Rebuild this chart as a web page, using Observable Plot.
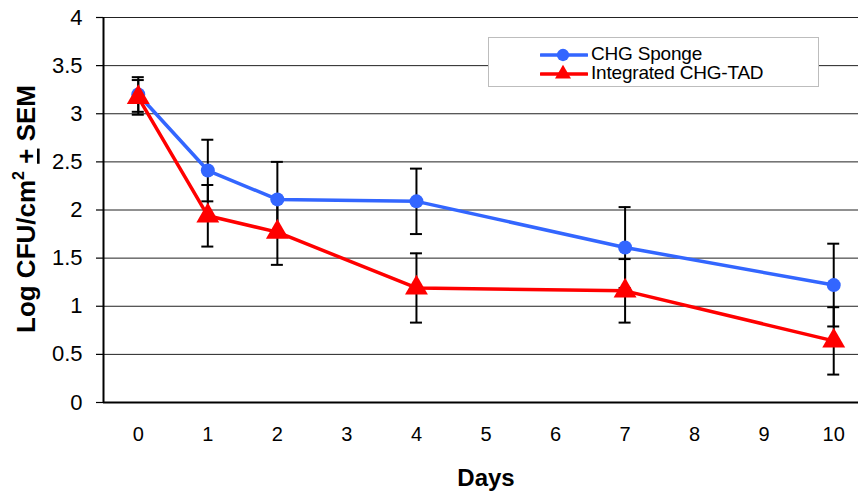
<!DOCTYPE html>
<html>
<head>
<meta charset="utf-8">
<script src="https://cdn.jsdelivr.net/npm/d3@7"></script>
<script src="https://cdn.jsdelivr.net/npm/@observablehq/plot@0.6"></script>
<style>
  html, body { margin: 0; padding: 0; background: #fff; }
  #wrap { position: relative; width: 858px; height: 492px; font-family: "Liberation Sans", Arial, sans-serif; }
  #legend { position: absolute; left: 488px; top: 37px; width: 329px; height: 48px; border: 1px solid #bdbdbd; background: #fff; }
  .row { position: absolute; left: 0; height: 20px; display: flex; align-items: center; }
  .row span { font-size: 19px; color: #000; margin-left: 3px; line-height: 20px; letter-spacing: -0.2px; }
</style>
</head>
<body>
<div id="wrap"></div>
<script>
// ---- data ----
const days = [0, 1, 2, 4, 7, 10];
const spongeValues = [3.20, 2.41, 2.11, 2.09, 1.61, 1.22];
const spongeSem = [0.18, 0.32, 0.39, 0.34, 0.42, 0.43];
const tadValues = [3.17, 1.94, 1.77, 1.19, 1.16, 0.64];
const tadSem = [0.18, 0.32, 0.34, 0.36, 0.33, 0.35];
const seriesNames = ["CHG Sponge", "Integrated CHG-TAD"];
const seriesColors = ["#3366ff", "#ff0000"];
const xTicks = [0, 1, 2, 3, 4, 5, 6, 7, 8, 9, 10];
const yTicks = [0, 0.5, 1, 1.5, 2, 2.5, 3, 3.5, 4];

const rows = [];
days.forEach((d, i) => {
  rows.push({day: d, series: seriesNames[0], value: spongeValues[i], sem: spongeSem[i]});
});
days.forEach((d, i) => {
  rows.push({day: d, series: seriesNames[1], value: tadValues[i], sem: tadSem[i]});
});
const sponge = rows.filter(r => r.series === seriesNames[0]);
const tad = rows.filter(r => r.series === seriesNames[1]);

const chart = Plot.plot({
  width: 858,
  height: 492,
  marginLeft: 103,
  marginRight: 0,
  marginTop: 17,
  marginBottom: 90,
  style: {fontFamily: '"Liberation Sans", Arial, sans-serif', color: "#000", background: "#fff"},
  x: {type: "linear", domain: [-0.5, 10.5], range: [103, 868]},
  y: {domain: [0, 4]},
  marks: [
    Plot.ruleY(yTicks.filter(t => t > 0), {stroke: "#222", strokeWidth: 1}),
    Plot.axisY({ticks: yTicks, tickSize: 7, tickPadding: 14, tickFormat: d => String(d), fontSize: 22, label: null, stroke: "#000", strokeWidth: 1.2}),
    Plot.axisX({ticks: xTicks, tickSize: 0, tickPadding: 24, tickFormat: d => String(d), fontSize: 20, label: null}),
    Plot.ruleY([0], {stroke: "#000", strokeWidth: 2}),
    Plot.ruleX([-0.5], {stroke: "#000", strokeWidth: 2}),
    // error bars
    Plot.ruleX(rows, {x: "day", y1: d => d.value - d.sem, y2: d => d.value + d.sem, stroke: "#000", strokeWidth: 2}),
    Plot.ruleY(rows, {x1: "day", x2: "day", y: d => d.value + d.sem, insetLeft: -6, insetRight: -6, stroke: "#000", strokeWidth: 2}),
    Plot.ruleY(rows, {x1: "day", x2: "day", y: d => d.value - d.sem, insetLeft: -6, insetRight: -6, stroke: "#000", strokeWidth: 2}),
    // lines
    Plot.line(sponge, {x: "day", y: "value", stroke: seriesColors[0], strokeWidth: 3.5}),
    Plot.line(tad, {x: "day", y: "value", stroke: seriesColors[1], strokeWidth: 3.5}),
    // markers
    Plot.dot(sponge, {x: "day", y: "value", r: 7, fill: seriesColors[0], stroke: "none"}),
    Plot.dot(tad, {x: "day", y: "value", symbol: "triangle", r: 8.5, fill: seriesColors[1], stroke: "none"})
  ]
});

const svg = d3.select(chart);
// y-axis title
const yt = svg.append("text")
  .attr("transform", "translate(35,209) rotate(-90)")
  .attr("text-anchor", "middle")
  .attr("font-family", '"Liberation Sans", Arial, sans-serif')
  .attr("font-weight", "bold")
  .attr("font-size", 26)
  .attr("fill", "#000");
yt.append("tspan").text("Log CFU/cm");
yt.append("tspan").attr("font-size", 16).attr("dy", -11).text("2");
yt.append("tspan").attr("dy", 11).text(" ");
yt.append("tspan").attr("text-decoration", "underline").text("+");
yt.append("tspan").text(" SEM");
// x-axis title
svg.append("text")
  .attr("x", 486).attr("y", 486)
  .attr("text-anchor", "middle")
  .attr("font-family", '"Liberation Sans", Arial, sans-serif')
  .attr("font-weight", "bold")
  .attr("font-size", 24)
  .attr("fill", "#000")
  .text("Days");

const wrap = document.getElementById("wrap");
wrap.appendChild(chart);

// legend
const legend = document.createElement("div");
legend.id = "legend";
const symbols = ["circle", "triangle"];
seriesNames.forEach((name, i) => {
  const row = document.createElement("div");
  row.className = "row";
  row.style.top = (i === 0 ? 6 : 25) + "px";
  row.style.left = "51px";
  const s = d3.create("svg").attr("width", 48).attr("height", 20);
  s.append("line").attr("x1", 1).attr("x2", 47).attr("y1", 11).attr("y2", 11)
    .attr("stroke", seriesColors[i]).attr("stroke-width", 3.5).attr("stroke-linecap", "round");
  s.append("path").attr("transform", "translate(23,11)")
    .attr("d", d3.symbol(symbols[i] === "circle" ? d3.symbolCircle : d3.symbolTriangle, symbols[i] === "circle" ? 120 : 110)())
    .attr("fill", seriesColors[i]);
  row.appendChild(s.node());
  const t = document.createElement("span");
  t.textContent = name;
  row.appendChild(t);
  legend.appendChild(row);
});
wrap.appendChild(legend);
</script>
</body>
</html>
